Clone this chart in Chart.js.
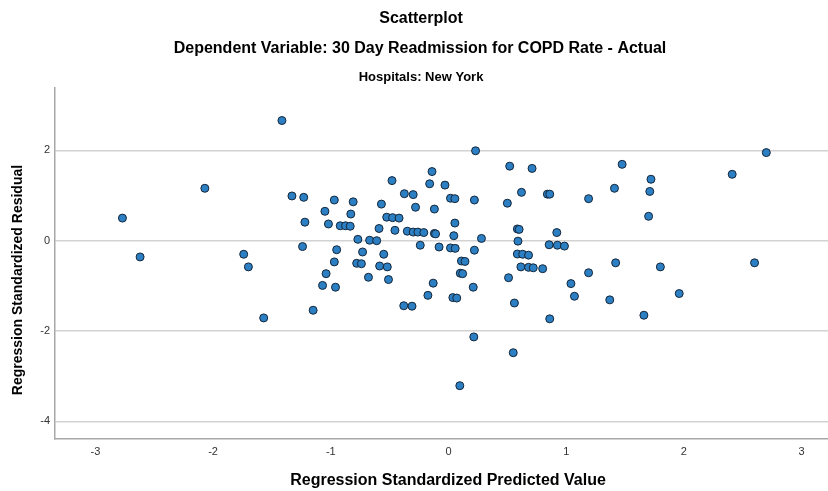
<!DOCTYPE html>
<html>
<head>
<meta charset="utf-8">
<script src="https://cdn.jsdelivr.net/npm/chart.js@4/dist/chart.umd.min.js"></script>
<style>
  html, body { margin: 0; padding: 0; background: #ffffff; }
  canvas { display: block; }
</style>
</head>
<body>
<canvas id="c" width="828" height="491"></canvas>
<script>
// ---- Data ----
const titleMain = "Scatterplot";
const titleDep = "Dependent Variable: 30 Day Readmission for COPD Rate - Actual";
const titleSub = "Hospitals: New York";
const xAxisTitle = "Regression Standardized Predicted Value";
const yAxisTitle = "Regression Standardized Residual";

const xTicks = [-3, -2, -1, 0, 1, 2, 3];
const yTicks = [2, 0, -2, -4];

const predicted = [
  -2.77, -2.62, -2.07, -1.74, -1.70, -1.57, -1.415, -1.33, -1.23, -1.22,
  -1.24, -1.15, -1.05, -1.02, -0.97, -0.92, -0.875, -0.835, -0.83, -0.81,
  -0.77, -0.67, -0.61, -0.57, -0.59, -0.525, -0.475, -0.42, -0.48, -0.455,
  -0.375, -0.30, -0.28, -0.35, -0.30, -0.26, -0.21, -0.14, -0.16, -0.03,
  -0.12, -0.12, -0.11, 0.017, 0.054, 0.054, 0.045, 0.23, 0.22, 0.28,
  0.52, 0.50, 0.62, 0.71, 0.84, 0.86, 0.585, 0.60, 0.59, 0.92,
  -0.95, -0.73, -0.55, -0.24, -0.08, 0.017, 0.057, 0.22, 0.855, 0.925,
  0.985, -0.97, -0.78, -0.74, -0.585, -0.52, 0.11, 0.14, 0.585, 0.63,
  0.68, 0.615, 0.68, 0.72, 0.80, -1.04, 0.10, 0.12, -0.68, -0.51,
  0.51, -1.07, -0.96, -0.13, 0.21, -0.175, 0.037, 0.07, 0.56, -0.38,
  -0.31, 0.86, 0.215, 0.55, 0.096, 2.70, 1.475, 2.41, 1.72, 1.41,
  1.71, 1.19, 1.70, 1.42, 1.80, 2.60, 1.19, 1.04, 1.07, 1.37,
  1.96, 1.66
];
const residual = [
  0.50, -0.36, 1.16, -0.30, -0.58, -1.71, 2.66, 0.99, 0.96, 0.41,
  -0.13, -1.54, 0.65, 0.37, 0.90, 0.33, 0.33, 0.32, 0.59, 0.86,
  0.03, 0.01, 0.00, 0.81, 0.27, 0.52, 0.51, 0.50, 1.33, 0.23,
  1.04, 1.02, 0.74, 0.21, 0.19, 0.19, 0.18, 1.53, 1.26, 1.23,
  0.70, 0.16, 0.15, 0.94, 0.93, 0.39, 0.11, 1.99, 0.90, 0.05,
  1.65, 0.83, 1.07, 1.60, 1.03, 1.03, 0.26, 0.25, -0.01, 0.18,
  -0.20, -0.25, -0.30, -0.10, -0.14, -0.16, -0.17, -0.21, -0.09, -0.10,
  -0.12, -0.47, -0.50, -0.51, -0.56, -0.58, -0.45, -0.46, -0.295, -0.30,
  -0.32, -0.58, -0.59, -0.60, -0.62, -0.73, -0.72, -0.73, -0.81, -0.86,
  -0.82, -0.99, -1.03, -0.94, -1.03, -1.21, -1.26, -1.27, -1.38, -1.44,
  -1.45, -1.73, -2.13, -2.48, -3.21, 1.95, 1.69, 1.47, 1.36, 1.16,
  1.09, 0.93, 0.54, -0.49, -0.58, -0.49, -0.71, -0.95, -1.23, -1.31,
  -1.17, -1.65
];

const points = predicted.map((x, i) => ({ x: x, y: residual[i] }));

const FONT = "'Liberation Sans', Arial, Helvetica, sans-serif";

const titlesPlugin = {
  id: 'titlesPlugin',
  afterDraw(chart) {
    const ctx = chart.ctx;
    ctx.save();
    ctx.fillStyle = '#000000';
    ctx.textAlign = 'center';
    ctx.textBaseline = 'middle';
    ctx.font = 'bold 16px ' + FONT;
    ctx.fillText(titleMain, 421, 19);
    ctx.fillText(titleDep, 420, 49);
    ctx.font = 'bold 13px ' + FONT;
    ctx.fillText(titleSub, 421, 77);
    ctx.font = 'bold 16px ' + FONT;
    ctx.fillText(xAxisTitle, 448, 481);
    ctx.translate(18, 280);
    ctx.rotate(-Math.PI / 2);
    ctx.font = 'bold 14px ' + FONT;
    ctx.fillText(yAxisTitle, 0, 0);
    ctx.restore();
  }
};

// Pin the plot area to the reference frame (left 55, top 88, right 828, bottom 439)
const areaPlugin = {
  id: 'areaPlugin',
  afterLayout(chart) {
    const L = 55, T = 88, R = 828, B = 439;
    const ca = chart.chartArea;
    ca.left = L; ca.right = R; ca.top = T; ca.bottom = B;
    ca.width = R - L; ca.height = B - T;
    const x = chart.scales.x, y = chart.scales.y;
    x.left = L; x.right = R; x.width = R - L;
    x.top = B; x.bottom = chart.height; x.height = chart.height - B;
    y.left = 0; y.right = L; y.width = L;
    y.top = T; y.bottom = B; y.height = B - T;
    x.configure(); y.configure();
    x._labelItems = null; y._labelItems = null;
    x._gridLineItems = null; y._gridLineItems = null;
  }
};

new Chart(document.getElementById('c'), {
  type: 'scatter',
  data: {
    datasets: [{
      label: 'Residuals',
      data: points,
      backgroundColor: '#2b7fc2',
      borderColor: '#14263a',
      borderWidth: 1,
      pointRadius: 4,
      pointHoverRadius: 4
    }]
  },
  options: {
    responsive: false,
    animation: false,
    layout: { padding: { top: 88, right: 0, left: 0, bottom: 0 } },
    plugins: {
      legend: { display: false },
      title: { display: false },
      tooltip: { enabled: false }
    },
    scales: {
      x: {
        type: 'linear',
        min: -3.343,
        max: 3.224,
        afterBuildTicks: (s) => { s.ticks = xTicks.map(v => ({ value: v })); },
        afterFit: (s) => { s.height = 52; },
        grid: { display: false, drawTicks: false },
        border: { display: true, color: '#a8a8a8', width: 1.5 },
        ticks: {
          padding: 6,
          color: '#333333',
          font: { family: FONT, size: 11 },
          maxRotation: 0,
          autoSkip: false
        }
      },
      y: {
        type: 'linear',
        min: -4.39,
        max: 3.38,
        afterBuildTicks: (s) => { s.ticks = yTicks.map(v => ({ value: v })); },
        afterFit: (s) => { s.width = 55; },
        grid: { display: true, color: '#d2d2d2', lineWidth: 1.5, drawTicks: false },
        border: { display: true, color: '#a8a8a8', width: 1.5 },
        ticks: {
          padding: 5,
          color: '#333333',
          font: { family: FONT, size: 11 },
          autoSkip: false
        }
      }
    }
  },
  plugins: [areaPlugin, titlesPlugin]
});
</script>
</body>
</html>
